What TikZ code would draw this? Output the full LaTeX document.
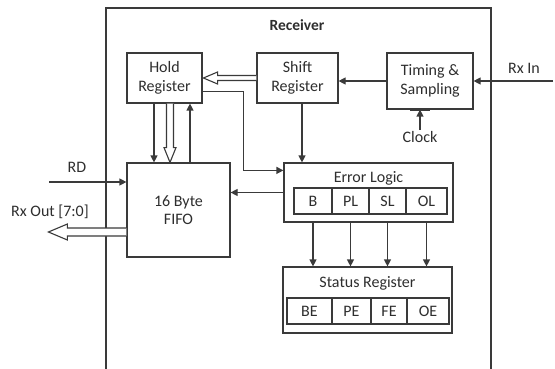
\documentclass[tikz,border=0pt]{standalone}
\usepackage{fontspec}
\setmainfont{Carlito}
\usetikzlibrary{arrows.meta,calc}
\definecolor{ln}{HTML}{3A3A3A}
\definecolor{tx}{HTML}{2E2E2E}
\begin{document}
\begin{tikzpicture}[x=1pt,y=-1pt,
  line width=1.2pt, draw=ln, text=tx,
  font=\fontsize{16}{18.5}\selectfont,
  blk/.style={draw=ln, line width=1.2pt, align=center, inner sep=0pt},
  cell/.style={draw=ln, line width=1.2pt, inner sep=0pt, minimum height=26pt},
  arr/.style={draw=ln, -{Triangle[length=7pt,width=7pt]}},
  hol/.style={draw=ln, line width=1.1pt, fill=white, line join=miter}]
\useasboundingbox (0,0) rectangle (555,369);
% outer frame
\coordinate (fbl) at (106,369);
\coordinate (ftl) at (106,8);
\coordinate (ftr) at (491,8);
\coordinate (fbr) at (491,369);
\draw[ln] (fbl) -- (ftl) -- (ftr) -- (fbr);
\node[font=\fontsize{15.5}{17}\selectfont\bfseries] (recv) at (297,25) {Receiver};
% blocks
\node[blk, minimum width=75pt, minimum height=50pt] (hold) at (164.5,78) {Hold\\Register};
\node[blk, minimum width=81pt, minimum height=50pt] (shift) at (297.5,78) {Shift\\Register};
\node[blk, minimum width=86pt, minimum height=56pt] (timing) at (430,81) {Timing \&\\Sampling};
\node[blk, minimum width=103pt, minimum height=94pt] (fifo) at (178.5,210) {16 Byte\\FIFO};
\node[blk, minimum width=169pt, minimum height=59pt] (error) at (368.5,192.5) {};
\node (errt) at (368.5,178) {Error Logic};
\node[cell, minimum width=38pt] (cB) at (313,201) {B};
\node[cell, minimum width=37pt] (cPL) at (350.5,201) {PL};
\node[cell, minimum width=37pt] (cSL) at (387.5,201) {SL};
\node[cell, minimum width=41pt] (cOL) at (426.5,201) {OL};
\node[blk, minimum width=169pt, minimum height=66pt] (status) at (367.5,300) {};
\node (statt) at (367.5,283) {Status Register};
\node[cell, minimum width=45pt] (sBE) at (309.5,311) {BE};
\node[cell, minimum width=39pt] (sPE) at (351.5,311) {PE};
\node[cell, minimum width=36pt] (sFE) at (389,311) {FE};
\node[cell, minimum width=42pt] (sOE) at (428,311) {OE};
% external labels
\node (rxinl) at (524,68) {Rx In};
\node (rdl) at (77,167) {RD};
\node (rxoutl) at (50,212) {Rx Out [7:0]};
\node[inner sep=1pt] (clock) at (420,137) {Clock};
\coordinate (rxin) at (553,81);
\coordinate (rd) at (49,182);
% helper coordinates
\coordinate (shB) at ($(shift.south)+(4.5,0)$);
\coordinate (shE) at (shB |- error.north);
\coordinate (hoE) at ($(hold.south east)+(0,-12)$);
\coordinate (hoK) at ($(error.north west)+(-40,8)$);
\coordinate (erH) at ($(error.north west)+(0,8)$);
\coordinate (hd1) at ($(hold.south)+(-10.5,0)$);
\coordinate (fd1) at (hd1 |- fifo.north);
\coordinate (hd2) at ($(hold.south)+(25.5,0)$);
\coordinate (fd2) at (hd2 |- fifo.north);
\coordinate (ck1) at ($(timing.south)+(-20,0)$);
\coordinate (ck2) at (timing.south);
% connectors
\draw[arr] (rxin) -- (timing.east);
\draw[arr] (timing.west) -- (timing.west -| shift.east);
\draw[arr] (clock.north) -- (clock.north |- timing.south);
\draw[line width=2pt] (ck1) -- (ck2);
\draw[arr] (shB) -- (shE);
\draw[arr] (hoE) -| (hoK) -- (erH);
\draw[arr] (error.west) -- (error.west -| fifo.east);
\draw[arr] (rd) -- (rd -| fifo.west);
\draw[arr] (hd1) -- (fd1);
\draw[arr] (fd2) -- (hd2);
\foreach \c in {cB,cPL,cSL,cOL}{
  \draw[arr] (\c.south |- error.south) -- (\c.south |- status.north);
}
% hollow arrow Shift -> Hold
\draw[hol] ($(shift.west)+(0,-2.5)$) -- ($(hold.east)+(15,-2.5)$) -- ($(hold.east)+(15,-6)$)
  -- ($(hold.east)+(0.8,0)$) -- ($(hold.east)+(15,6)$) -- ($(hold.east)+(15,2.5)$)
  -- ($(shift.west)+(0,2.5)$);
% hollow arrow Hold -> FIFO
\coordinate (ha) at (hold.south);
\coordinate (hb) at ($(hold.south)+(5.5,0)$);
\coordinate (htip) at (hb |- fifo.north);
\draw[hol] ($(ha)+(2,0)$) -- ($(ha)+(2,44)$) -- ($(ha)+(-0.5,44)$)
  -- (htip) -- ($(ha)+(11.5,44)$) -- ($(ha)+(9,44)$) -- ($(ha)+(9,0)$);
% hollow arrow FIFO -> Rx Out
\draw[hol] ($(fifo.west)+(0,18)$) -- ($(fifo.west)+(-59,18)$) -- ($(fifo.west)+(-59,14)$)
  -- ($(fifo.west)+(-78,22)$) -- ($(fifo.west)+(-59,30)$) -- ($(fifo.west)+(-59,26)$)
  -- ($(fifo.west)+(0,26)$);
\end{tikzpicture}
\end{document}
